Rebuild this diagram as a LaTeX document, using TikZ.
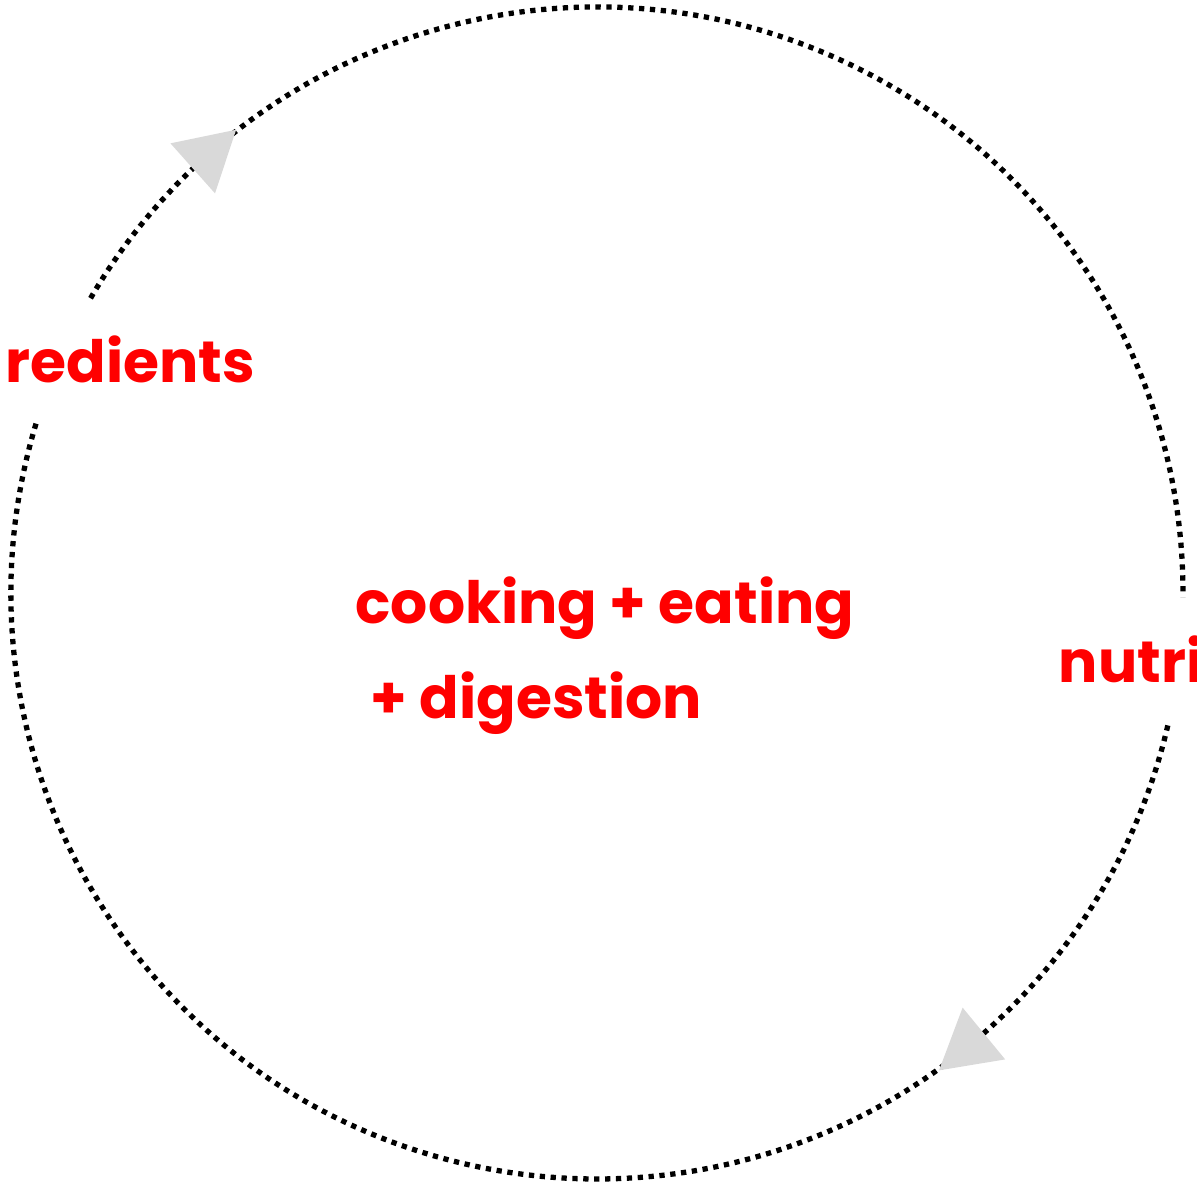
\documentclass[tikz,border=0pt]{standalone}
\usepackage{fontspec}
\setmainfont{Poppins}
\usepackage{tikz}
\usetikzlibrary{calc}
\usetikzlibrary{positioning}
\definecolor{cyclered}{RGB}{255, 0, 0}
\definecolor{arrowgray}{RGB}{217, 217, 217}

\begin{document}
\begin{tikzpicture}[x=0.1mm, y=0.1mm,
        dotring/.style={line width=1.5pt, dash pattern=on 1.5pt off 1.6pt},
        redtext/.style={text=cyclered, font=\fontsize{16.6}{20}\selectfont\bfseries, anchor=base west, inner sep=0pt},
        flow/.style={fill=arrowgray}]
            % Frame to fix the page size
            \useasboundingbox                                                 (-597,-595) rectangle (600, 593);
            % Labels
            \node[redtext] (ingredients) at (-592,  210) {redients};
            \node[redtext] (nutrients)   at ( 461,  -89) {nutri};
            \node[redtext] (cooking)     at (-242,  -30) {cooking + eating};
            \node[redtext] (digestion)   at (-227, -125) {+ digestion};
            % Ends of the ring next to the labels
            \coordinate (ingredients-top) at (149.8:586);
            \coordinate (ingredients-bot) at (163.2:586);
            % Upper arc: ingredients to nutrients
            \draw[dotring] (ingredients-top) arc[start angle=149.8, end angle=-0.4,  radius=586];
            % Lower arc: nutrients back round to ingredients
            \draw[dotring] (ingredients-bot) arc[start angle=163.2, end angle=347.2, radius=586];
            % Flow marks
            \foreach \a in {131.7, -50.6}
                \fill[flow, shift={(\a:586)}, rotate=\a-90] (0:38.7) -- (120:38.7) -- (240:38.7) -- cycle;
        \end{tikzpicture}
\end{document}
